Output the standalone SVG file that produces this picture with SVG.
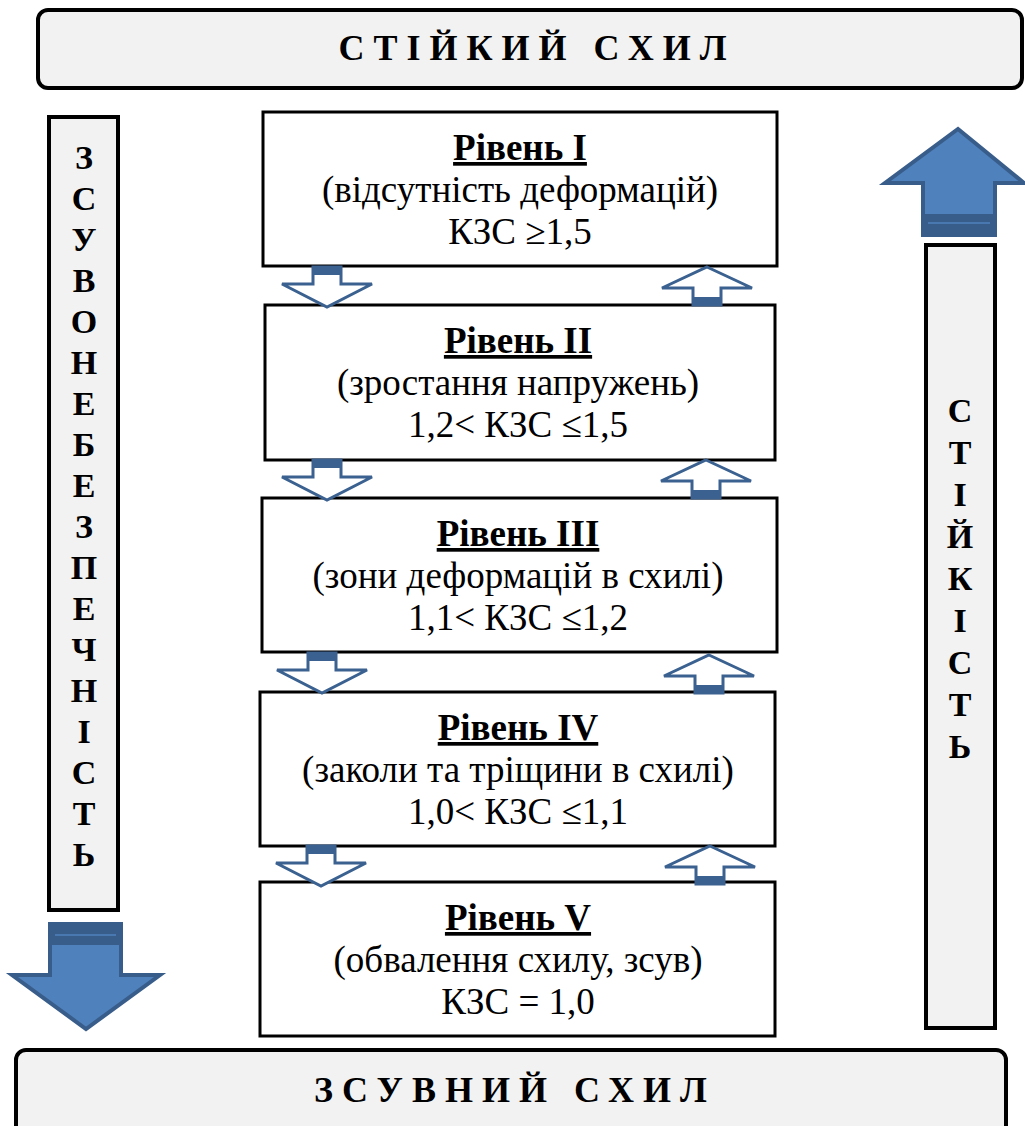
<svg xmlns="http://www.w3.org/2000/svg" width="1025" height="1126" viewBox="0 0 1025 1126">
<style>
.banner{fill:#f2f2f2;stroke:#000;stroke-width:4}
.vbox{fill:#f2f2f2;stroke:#000;stroke-width:4}
.box{fill:#fff;stroke:#000;stroke-width:3}
.bt{font-family:"Liberation Serif","Times New Roman","DejaVu Serif",serif;font-weight:bold;font-size:36px;fill:#000;text-anchor:middle;letter-spacing:9px}
.vt{font-family:"Liberation Serif","Times New Roman","DejaVu Serif",serif;font-weight:bold;font-size:34px;fill:#000;text-anchor:middle}
.t{font-family:"Liberation Serif","Times New Roman","DejaVu Serif",serif;font-size:37px;fill:#000;text-anchor:middle}
.h{font-weight:bold;text-decoration:underline}
.big{fill:#4f81bd;stroke:#385d8a;stroke-width:4;stroke-linejoin:miter}
.band{fill:#385d8a}
.sm{fill:#fff;stroke:#3a6190;stroke-width:3}
.smd{fill:#3a6190}
</style>
<defs>
<g id="dn">
<path class="sm" d="M-14,0 L14,0 L14,17 L45,17 L0,40 L-45,17 L-14,17 Z"/>
<rect class="smd" x="-14" y="0" width="28" height="8"/>
</g>
<g id="up">
<path class="sm" d="M0,0 L45,21 L14,21 L14,38 L-14,38 L-14,21 L-45,21 Z"/>
<rect class="smd" x="-14" y="30" width="28" height="8"/>
</g>
</defs>

<g id="top-banner">
<rect class="banner" x="38" y="10" width="984" height="78" rx="10"/>
<text class="bt" x="537" y="60">СТІЙКИЙ СХИЛ</text>
</g>

<g id="bottom-banner">
<rect class="banner" x="16" y="1050" width="990" height="90" rx="10"/>
<text class="bt" x="515" y="1102">ЗСУВНИЙ СХИЛ</text>
</g>

<g id="left-label">
<rect class="vbox" x="49" y="117" width="69" height="793"/>
<g class="vt">
<text x="84" y="169">З</text>
<text x="84" y="210">С</text>
<text x="84" y="251">У</text>
<text x="84" y="292">В</text>
<text x="84" y="333">О</text>
<text x="84" y="374">Н</text>
<text x="84" y="415">Е</text>
<text x="84" y="456">Б</text>
<text x="84" y="497">Е</text>
<text x="84" y="538">З</text>
<text x="84" y="579">П</text>
<text x="84" y="620">Е</text>
<text x="84" y="661">Ч</text>
<text x="84" y="702">Н</text>
<text x="84" y="743">І</text>
<text x="84" y="784">С</text>
<text x="84" y="825">Т</text>
<text x="84" y="866">Ь</text>
</g>
</g>

<g id="right-label">
<rect class="vbox" x="926" y="245" width="69" height="783"/>
<g class="vt">
<text x="960" y="422">С</text>
<text x="960" y="464">Т</text>
<text x="960" y="506">І</text>
<text x="960" y="548">Й</text>
<text x="960" y="590">К</text>
<text x="960" y="632">І</text>
<text x="960" y="674">С</text>
<text x="960" y="716">Т</text>
<text x="960" y="758">Ь</text>
</g>
</g>

<g id="level1">
<rect class="box" x="263" y="112" width="514" height="154"/>
<text class="t h" x="520" y="160">Рівень І</text>
<text class="t" x="520" y="202">(відсутність деформацій)</text>
<text class="t" x="520" y="244">КЗС ≥1,5</text>
</g>
<g id="level2">
<rect class="box" x="265" y="305" width="510" height="155"/>
<text class="t h" x="518" y="353">Рівень ІІ </text>
<text class="t" x="518" y="395">(зростання напружень)</text>
<text class="t" x="518" y="437">1,2&lt; КЗС ≤1,5</text>
</g>
<g id="level3">
<rect class="box" x="262" y="498" width="515" height="154"/>
<text class="t h" x="518" y="546">Рівень ІІІ</text>
<text class="t" x="518" y="588">(зони деформацій в схилі)</text>
<text class="t" x="518" y="630">1,1&lt; КЗС ≤1,2</text>
</g>
<g id="level4">
<rect class="box" x="260" y="692" width="515" height="154"/>
<text class="t h" x="518" y="740">Рівень ІV</text>
<text class="t" x="518" y="782">(заколи та тріщини в схилі)</text>
<text class="t" x="518" y="824">1,0&lt; КЗС ≤1,1</text>
</g>
<g id="level5">
<rect class="box" x="260" y="882" width="515" height="154"/>
<text class="t h" x="518" y="930">Рівень V</text>
<text class="t" x="518" y="972">(обвалення схилу, зсув)</text>
<text class="t" x="518" y="1014">КЗС = 1,0</text>
</g>

<g id="connectors">
<use href="#dn" x="327" y="267"/>
<use href="#up" x="707" y="267"/>
<use href="#dn" x="327" y="460"/>
<use href="#up" x="706" y="460"/>
<use href="#dn" x="322" y="653"/>
<use href="#up" x="709" y="655"/>
<use href="#dn" x="321" y="846"/>
<use href="#up" x="710" y="846"/>

<g id="big-down">
<path class="big" d="M50,924 L121,924 L121,975 L160,975 L86,1029 L12,975 L50,975 Z"/>
<rect class="band" x="50" y="924" width="71" height="21"/>
<line x1="55" y1="935" x2="116" y2="935" stroke="#4f81bd" stroke-width="1.5"/>
</g>
<g id="big-up">
<path class="big" d="M958,129 L1024,183 L995,183 L995,235 L923,235 L923,183 L885,183 Z"/>
<rect class="band" x="923" y="214" width="72" height="21"/>
<line x1="928" y1="223" x2="990" y2="223" stroke="#4f81bd" stroke-width="1.5"/>
</g>
</g>
</svg>
